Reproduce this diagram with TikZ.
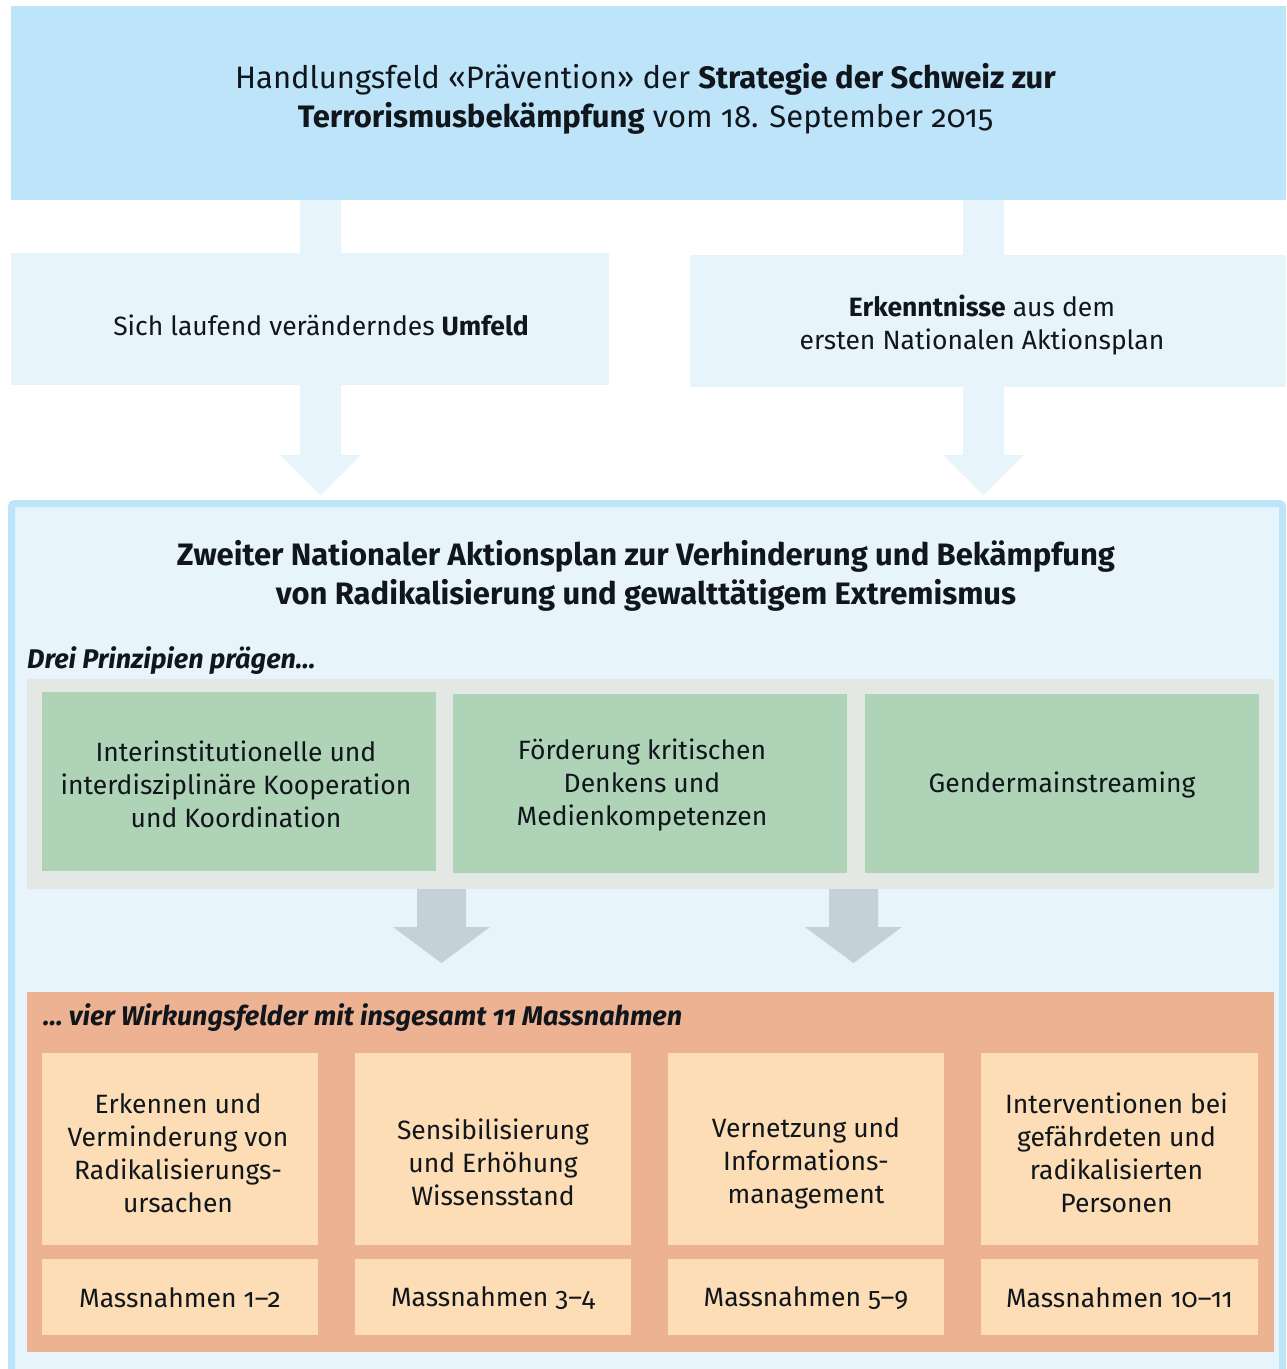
\documentclass[tikz,border=0pt]{standalone}
\usepackage{fontspec}
\setmainfont{Fira Sans}[Numbers=OldStyle,RawFeature=+onum]
\usetikzlibrary{calc}
\definecolor{topblue}{HTML}{BDE4F8}
\definecolor{paleblue}{HTML}{E7F4FC}
\definecolor{panelgray}{HTML}{E3E8E4}
\definecolor{boxgreen}{HTML}{AFD3B6}
\definecolor{arrowgray}{HTML}{C5D1D9}
\definecolor{panelorange}{HTML}{ECB292}
\definecolor{boxorange}{HTML}{FDDDB5}
\definecolor{ink}{HTML}{10161C}
\newcommand\blockarrow[6]{%
  \fill[#1] let \p1=(#2), \p2=(#3) in
    (\x1-#4,\y1) -- (\x1-#4,\y2+#6) -- (\x1-#5,\y2+#6) -- (\x2,\y2)
    -- (\x1+#5,\y2+#6) -- (\x1+#4,\y2+#6) -- (\x1+#4,\y1) -- cycle;}
\begin{document}
\begin{tikzpicture}[x=1pt,y=-1pt,
  box/.style={inner sep=0pt, outer sep=0pt, align=center, text=ink},
  body/.style={font=\fontsize{26.5}{33}\selectfont},
  big/.style={font=\fontsize{31}{39}\selectfont},
  lbl/.style={inner sep=0pt, text=ink, font=\fontsize{27}{30}\selectfont\bfseries\itshape}]
\useasboundingbox[fill=white] (0,0) rectangle (1286,1369);

% top box
\node[box, big, fill=topblue, minimum width=1275, minimum height=194] (top) at (648.5,103) {};
\node[box, big] (toptext) at ($(top.center)+(-3,-4)$)
  {Handlungsfeld «Prävention» der \textbf{Strategie der Schweiz zur}\\
   \textbf{Terrorismusbekämpfung} vom 18. September 2015};

% big frame
\node[box, draw=topblue, line width=7, fill=paleblue, rounded corners=3,
  minimum width=1271, minimum height=876.5, outer sep=3.5] (big) at (647,941.75) {};

% blue block arrows
\blockarrow{paleblue}{$(top.south)+(-328,0)$}{$(big.north)+(-326.5,-5)$}{20.5pt}{40.5pt}{40pt}
\blockarrow{paleblue}{$(top.south)+(335,0)$}{$(big.north)+(336.5,-5)$}{20.5pt}{40.5pt}{40pt}

% middle boxes
\node[box, body, fill=paleblue, minimum width=598, minimum height=132] (midL) at (310,319) {};
\node[box, body] (midLtext) at ($(midL.center)+(11,6)$)
  {Sich laufend veränderndes \textbf{Umfeld}};
\node[box, body, fill=paleblue, minimum width=596, minimum height=132] (midR) at (988,321) {};
\node[box, body] (midRtext) at ($(midR.center)+(-6,4)$)
  {\textbf{Erkenntnisse} aus dem\\ersten Nationalen Aktionsplan};

% heading
\node[box, big, font=\fontsize{31}{39}\selectfont\bfseries] (head) at ($(big.north)+(-1,76)$)
  {Zweiter Nationaler Aktionsplan zur Verhinderung und Bekämpfung\\
   von Radikalisierung und gewalttätigem Extremismus};

% principles
\node[lbl, anchor=base west] (lblA) at (27,668) {Drei Prinzipien prägen…};
\node[box, fill=panelgray, minimum width=1247, minimum height=210] (gray) at (650.5,784) {};
\node[box, fill=boxgreen, minimum width=394, minimum height=179] (g1) at (239,781.5) {};
\node[box, fill=boxgreen, minimum width=394, minimum height=179] (g2) at (650,783.5) {};
\node[box, fill=boxgreen, minimum width=394, minimum height=179] (g3) at (1062,783.5) {};
\node[box, body] (g1t) at ($(g1.center)+(-3,3)$)
  {Interinstitutionelle und\\interdisziplinäre Kooperation\\und Koordination};
\node[box, body] (g2t) at ($(g2.center)+(-8,1)$)
  {Förderung kritischen\\Denkens und\\Medienkompetenzen};
\node[box, body] (g3t) at ($(g3.center)+(0,1)$) {Gendermainstreaming};

% orange panel
\node[box, fill=panelorange, minimum width=1247, minimum height=360] (orange) at (650.5,1172) {};
\node[lbl, anchor=base west] (lblB) at (43,1025) {… vier Wirkungsfelder mit insgesamt 11 Massnahmen};

% gray arrows
\blockarrow{arrowgray}{$(gray.south)+(-209,0)$}{$(orange.north)+(-209,-29)$}{24.5pt}{48.5pt}{36pt}
\blockarrow{arrowgray}{$(gray.south)+(203,0)$}{$(orange.north)+(203,-29)$}{24.5pt}{48.5pt}{36pt}

% fields
\foreach \n/\x/\w in {1/180/276, 2/493/276, 3/806/276, 4/1119.5/277}{
  \node[box, fill=boxorange, minimum width=\w, minimum height=192] (f\n) at (\x,1149) {};
  \node[box, fill=boxorange, minimum width=\w, minimum height=76] (m\n) at (\x,1297) {};
}
\node[box, body] (f1t) at ($(f1.center)+(-2,4)$) {Erkennen und\\Verminderung von\\Radikalisierungs-\\ursachen};
\node[box, body] (f2t) at ($(f2.center)+(0,13)$) {Sensibilisierung\\und Erhöhung\\Wissensstand};
\node[box, body] (f3t) at ($(f3.center)+(0,14)$) {Vernetzung und\\Informations-\\management};
\node[box, body] (f4t) at ($(f4.center)+(-3,4)$) {Interventionen bei\\gefährdeten und\\radikalisierten\\Personen};
\node[box, body] (m1t) at ($(m1.center)+(0,1)$) {Massnahmen 1–2};
\node[box, body] (m2t) at ($(m2.center)+(0,1)$) {Massnahmen 3–4};
\node[box, body] (m3t) at ($(m3.center)+(0,1)$) {Massnahmen 5–9};
\node[box, body] (m4t) at ($(m4.center)+(0,1)$) {Massnahmen 10–11};
\end{tikzpicture}
\end{document}
